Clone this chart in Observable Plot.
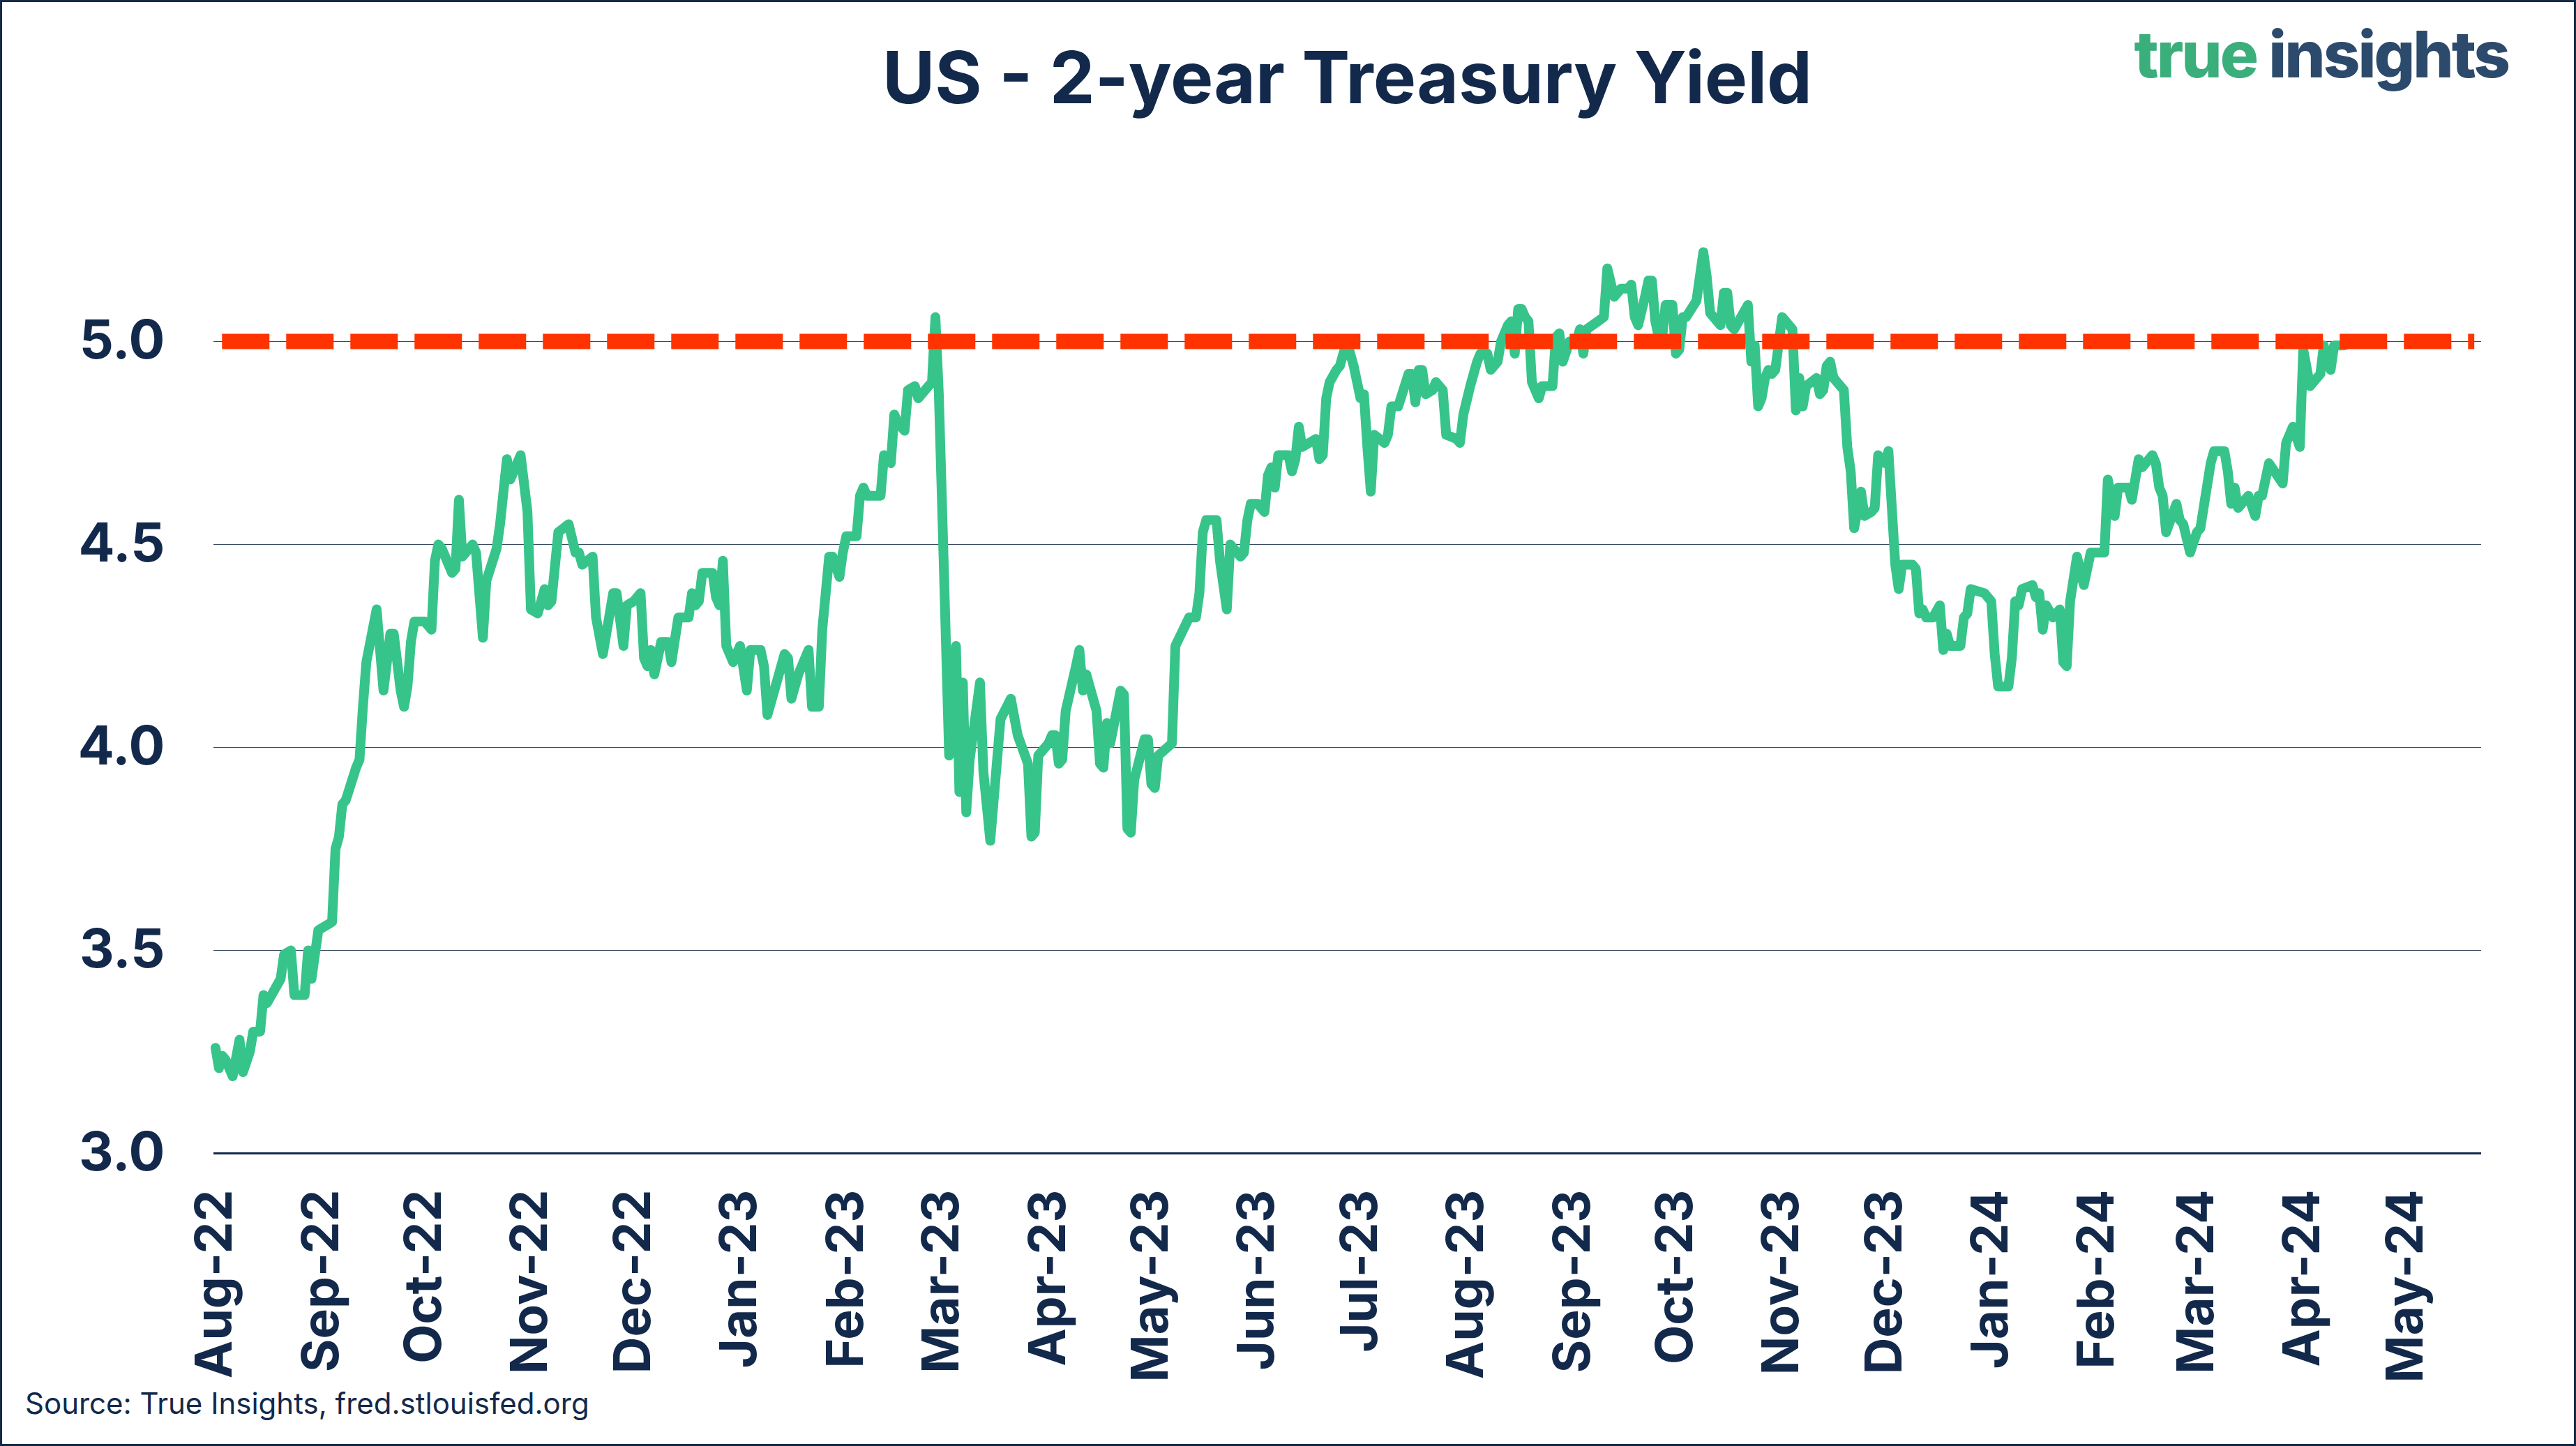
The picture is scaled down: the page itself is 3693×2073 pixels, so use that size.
<!DOCTYPE html>
<html>
<head>
<meta charset="utf-8">
<script src="https://cdn.jsdelivr.net/npm/d3@7"></script>
<script src="https://cdn.jsdelivr.net/npm/@observablehq/plot@0.6"></script>
<style>
  html, body { margin: 0; padding: 0; background: #ffffff; }
  #frame { position: relative; width: 3693px; height: 2073px; overflow: hidden; background: #ffffff; font-family: Inter, "Noto Sans", sans-serif; }
  #border { position: absolute; left: 0; top: 0; width: 3693px; height: 2073px; box-sizing: border-box; border: 3px solid #152a47; pointer-events: none; }
  #title { position: absolute; left: 306px; width: 3251px; top: 59px; text-align: center; font-size: 103px; line-height: 1; font-weight: 700; color: #13294b; white-space: nowrap; }
  #logo { position: absolute; right: 97px; top: 32px; font-size: 92px; line-height: 1; font-weight: 800; letter-spacing: -3px; white-space: nowrap; }
  #logo .a { color: #3aae7b; }
  #logo .b { color: #2c4a6c; }
  #chart { position: absolute; left: 0; top: 200px; }
  #caption { position: absolute; left: 36px; top: 1991px; font-size: 42px; line-height: 1; color: #13294b; white-space: nowrap; }
</style>
</head>
<body>
<div id="frame">
  <div id="title">US - 2-year Treasury Yield</div>
  <div id="logo"><span class="a">true</span> <span class="b">insights</span></div>
  <div id="chart"></div>
  <div id="caption">Source: True Insights, fred.stlouisfed.org</div>
  <div id="border"></div>
</div>
<script>
// ---- data (US 2-year Treasury yield, %) ----
const dates22 = [
  "2022-08-01","2022-08-02","2022-08-03","2022-08-04","2022-08-06","2022-08-08","2022-08-09","2022-08-11","2022-08-12","2022-08-14","2022-08-15","2022-08-16","2022-08-18","2022-08-20","2022-08-21","2022-08-23","2022-08-24","2022-08-27","2022-08-28","2022-08-29","2022-08-31",
  "2022-09-04","2022-09-05","2022-09-06","2022-09-07","2022-09-08","2022-09-11","2022-09-12","2022-09-13","2022-09-14","2022-09-17","2022-09-19","2022-09-21","2022-09-22","2022-09-24","2022-09-25","2022-09-26","2022-09-27","2022-09-28",
  "2022-10-01","2022-10-03","2022-10-04","2022-10-05","2022-10-06","2022-10-09","2022-10-10","2022-10-11","2022-10-12","2022-10-15","2022-10-16","2022-10-18","2022-10-19","2022-10-22","2022-10-23","2022-10-25","2022-10-26","2022-10-27","2022-10-29","2022-10-31",
  "2022-11-01","2022-11-03","2022-11-05","2022-11-06","2022-11-07","2022-11-09","2022-11-12","2022-11-14","2022-11-15","2022-11-16","2022-11-19","2022-11-20","2022-11-22","2022-11-25","2022-11-26","2022-11-28","2022-11-29",
  "2022-12-01","2022-12-03","2022-12-04","2022-12-05","2022-12-06","2022-12-07","2022-12-09","2022-12-11","2022-12-12","2022-12-14","2022-12-17","2022-12-18","2022-12-19","2022-12-20","2022-12-21","2022-12-24","2022-12-25","2022-12-26","2022-12-27","2022-12-28","2022-12-30"
];
const yields22 = [
  3.26,3.21,3.24,3.23,3.19,3.28,3.20,3.25,3.30,3.30,3.39,3.37,3.40,3.43,3.49,3.50,3.39,3.39,3.50,3.43,3.55,
  3.57,3.75,3.78,3.86,3.87,3.95,3.97,4.10,4.21,4.34,4.14,4.28,4.28,4.14,4.10,4.15,4.26,4.31,
  4.31,4.29,4.46,4.50,4.49,4.43,4.44,4.61,4.47,4.50,4.48,4.27,4.41,4.49,4.55,4.71,4.66,4.68,4.72,4.58,
  4.34,4.33,4.39,4.35,4.36,4.53,4.55,4.48,4.48,4.45,4.47,4.32,4.23,4.38,4.38,4.25,4.35,
  4.36,4.38,4.22,4.20,4.24,4.18,4.26,4.26,4.21,4.32,4.32,4.38,4.35,4.36,4.43,4.43,4.37,4.35,4.46,4.25,4.21
];
const dates23 = [
  "2023-01-01","2023-01-03","2023-01-04","2023-01-07","2023-01-08","2023-01-09","2023-01-12","2023-01-14","2023-01-15","2023-01-16","2023-01-18","2023-01-21","2023-01-22","2023-01-24","2023-01-25","2023-01-27","2023-01-28","2023-01-30","2023-01-31",
  "2023-02-01","2023-02-04","2023-02-05","2023-02-06","2023-02-07","2023-02-11","2023-02-12","2023-02-14","2023-02-15","2023-02-16","2023-02-18","2023-02-19","2023-02-21","2023-02-22","2023-02-24","2023-02-26","2023-02-27","2023-02-28",
  "2023-03-01","2023-03-03","2023-03-05","2023-03-06","2023-03-07","2023-03-08","2023-03-09","2023-03-12","2023-03-13","2023-03-15","2023-03-18","2023-03-21","2023-03-23","2023-03-26","2023-03-27","2023-03-28","2023-03-29",
  "2023-04-01","2023-04-02","2023-04-03","2023-04-04","2023-04-05","2023-04-06","2023-04-09","2023-04-10","2023-04-11","2023-04-12","2023-04-15","2023-04-16","2023-04-17","2023-04-18","2023-04-19","2023-04-22","2023-04-23","2023-04-24","2023-04-25","2023-04-26","2023-04-29","2023-04-30",
  "2023-05-01","2023-05-02","2023-05-03","2023-05-07","2023-05-08","2023-05-12","2023-05-14","2023-05-15","2023-05-16","2023-05-17","2023-05-20","2023-05-21","2023-05-23","2023-05-24","2023-05-25","2023-05-27","2023-05-28","2023-05-29","2023-05-30",
  "2023-06-01","2023-06-03","2023-06-04","2023-06-05","2023-06-06","2023-06-07","2023-06-10","2023-06-11","2023-06-12","2023-06-13","2023-06-14","2023-06-16","2023-06-18","2023-06-19","2023-06-20","2023-06-21","2023-06-22","2023-06-24","2023-06-25","2023-06-27","2023-06-29",
  "2023-07-01","2023-07-02","2023-07-03","2023-07-04","2023-07-05","2023-07-08","2023-07-09","2023-07-10","2023-07-12","2023-07-15","2023-07-16","2023-07-17","2023-07-18","2023-07-19","2023-07-20","2023-07-22","2023-07-23","2023-07-24","2023-07-25","2023-07-26","2023-07-29","2023-07-30","2023-07-31",
  "2023-08-02","2023-08-04","2023-08-05","2023-08-07","2023-08-08","2023-08-10","2023-08-11","2023-08-13","2023-08-14","2023-08-15","2023-08-16","2023-08-17","2023-08-18","2023-08-19","2023-08-20","2023-08-22","2023-08-23","2023-08-26","2023-08-27","2023-08-28","2023-08-29","2023-08-31",
  "2023-09-02","2023-09-03","2023-09-04","2023-09-05","2023-09-10","2023-09-11","2023-09-13","2023-09-15","2023-09-17","2023-09-18","2023-09-19","2023-09-20","2023-09-22","2023-09-23","2023-09-24","2023-09-25","2023-09-26","2023-09-27","2023-09-28","2023-09-30",
  "2023-10-01","2023-10-02","2023-10-03","2023-10-04","2023-10-07","2023-10-09","2023-10-10","2023-10-11","2023-10-14","2023-10-15","2023-10-16","2023-10-17","2023-10-18","2023-10-20","2023-10-22","2023-10-23","2023-10-24","2023-10-25","2023-10-26","2023-10-27","2023-10-28","2023-10-29","2023-10-30",
  "2023-11-01","2023-11-04","2023-11-05","2023-11-06","2023-11-07","2023-11-08","2023-11-11","2023-11-12","2023-11-13","2023-11-14","2023-11-15","2023-11-16","2023-11-19","2023-11-20","2023-11-21","2023-11-22","2023-11-24","2023-11-25","2023-11-27","2023-11-28","2023-11-29",
  "2023-12-01","2023-12-02","2023-12-04","2023-12-05","2023-12-06","2023-12-09","2023-12-10","2023-12-11","2023-12-12","2023-12-13","2023-12-15","2023-12-17","2023-12-18","2023-12-19","2023-12-20","2023-12-23","2023-12-24","2023-12-25","2023-12-26","2023-12-30","2023-12-31"
];
const yields23 = [
  4.25,4.14,4.24,4.24,4.20,4.08,4.17,4.23,4.22,4.12,4.18,4.24,4.10,4.10,4.29,4.47,4.47,4.42,4.48,
  4.52,4.52,4.62,4.64,4.62,4.62,4.72,4.70,4.82,4.80,4.78,4.88,4.89,4.86,4.88,4.90,5.06,4.87,
  4.58,3.98,4.25,3.89,4.16,3.84,3.97,4.16,3.94,3.77,4.07,4.12,4.03,3.96,3.78,3.79,3.98,
  4.01,4.03,4.03,3.96,3.97,4.09,4.20,4.24,4.14,4.18,4.09,3.96,3.95,4.06,4.01,4.14,4.13,3.80,3.79,3.92,4.02,4.02,
  3.91,3.90,3.98,4.01,4.25,4.32,4.32,4.38,4.53,4.56,4.56,4.46,4.34,4.50,4.49,4.47,4.48,4.56,4.60,
  4.60,4.58,4.67,4.69,4.64,4.72,4.72,4.68,4.71,4.79,4.74,4.75,4.76,4.71,4.72,4.86,4.90,4.93,4.94,5.00,4.94,
  4.86,4.87,4.74,4.63,4.77,4.75,4.77,4.84,4.84,4.92,4.92,4.85,4.93,4.93,4.87,4.88,4.90,4.89,4.88,4.77,4.76,4.75,4.82,
  4.89,4.95,4.97,4.97,4.93,4.95,5.00,5.04,5.05,4.97,5.08,5.08,5.06,5.05,4.90,4.86,4.89,4.89,5.01,5.02,4.95,5.00,
  5.00,5.03,4.97,5.03,5.06,5.18,5.11,5.13,5.13,5.14,5.06,5.04,5.11,5.15,5.15,5.05,5.01,5.01,5.09,5.09,
  4.97,4.98,5.06,5.06,5.10,5.22,5.16,5.07,5.04,5.12,5.12,5.04,5.03,5.06,5.09,4.95,4.99,4.84,4.86,4.91,4.93,4.92,4.93,
  5.06,5.03,4.83,4.91,4.84,4.89,4.91,4.87,4.88,4.94,4.95,4.91,4.88,4.74,4.68,4.54,4.63,4.57,4.58,4.59,4.72,
  4.70,4.73,4.45,4.39,4.45,4.45,4.44,4.33,4.34,4.32,4.32,4.35,4.24,4.28,4.25,4.25,4.32,4.33,4.39,4.38,4.37
];
const dates24 = [
  "2024-01-01","2024-01-02","2024-01-03","2024-01-06","2024-01-07","2024-01-08","2024-01-09","2024-01-10","2024-01-13","2024-01-14","2024-01-15","2024-01-16","2024-01-17","2024-01-19","2024-01-21","2024-01-22","2024-01-23","2024-01-24","2024-01-26","2024-01-28","2024-01-30",
  "2024-02-03","2024-02-04","2024-02-06","2024-02-07","2024-02-10","2024-02-11","2024-02-13","2024-02-14","2024-02-17","2024-02-18","2024-02-19","2024-02-20","2024-02-21","2024-02-24","2024-02-25","2024-02-26","2024-02-28",
  "2024-03-01","2024-03-02","2024-03-05","2024-03-06","2024-03-09","2024-03-10","2024-03-11","2024-03-12","2024-03-13","2024-03-16","2024-03-18","2024-03-19","2024-03-20","2024-03-22","2024-03-26","2024-03-27","2024-03-29","2024-03-31",
  "2024-04-01","2024-04-03","2024-04-06","2024-04-07","2024-04-09","2024-04-10","2024-04-13"
];
const yields24 = [
  4.36,4.23,4.15,4.15,4.22,4.36,4.35,4.39,4.40,4.37,4.38,4.29,4.35,4.32,4.34,4.21,4.20,4.36,4.47,4.40,4.48,
  4.48,4.66,4.57,4.64,4.64,4.61,4.71,4.69,4.72,4.70,4.64,4.62,4.53,4.60,4.56,4.55,4.48,
  4.53,4.54,4.70,4.73,4.73,4.68,4.60,4.64,4.59,4.62,4.57,4.62,4.62,4.70,4.65,4.75,4.79,4.74,
  4.98,4.89,4.92,4.99,4.93,4.99,4.99
];

// 5% reference level (red dashed line)
const targetLevel = 5.0;
const targetStart = "2022-08-03";
const targetEnd = "2024-05-21";

// axis ticks
const yTicks = [3.0, 3.5, 4.0, 4.5, 5.0];
const gridLevels = [3.5, 4.0, 4.5, 5.0];
const monthTicks = [
  "2022-08-01","2022-09-01","2022-10-01","2022-11-01","2022-12-01",
  "2023-01-01","2023-02-01","2023-03-01","2023-04-01","2023-05-01","2023-06-01",
  "2023-07-01","2023-08-01","2023-09-01","2023-10-01","2023-11-01","2023-12-01",
  "2024-01-01","2024-02-01","2024-03-01","2024-04-01","2024-05-01"
];

// ---- build ----
const parse = d3.utcParse("%Y-%m-%d");
const series = [];
[[dates22, yields22], [dates23, yields23], [dates24, yields24]].forEach(([ds, ys]) => {
  ds.forEach((d, i) => series.push({date: parse(d), value: ys[i]}));
});
const target = [{start: parse(targetStart), end: parse(targetEnd), level: targetLevel}];

const navy = "#13294b";
const chart = Plot.plot({
  width: 3693,
  height: 1790,
  marginLeft: 306,
  marginRight: 136,
  marginTop: 114.4,
  marginBottom: 337,
  style: {fontFamily: "Inter, 'Noto Sans', sans-serif", color: navy, background: "transparent", overflow: "visible"},
  x: {type: "utc", domain: [new Date(Date.UTC(2022, 6, 31, 12)), new Date(Date.UTC(2024, 4, 23))]},
  y: {domain: [3.0, 5.3]},
  marks: [
    Plot.ruleY(gridLevels, {stroke: "#34475c", strokeWidth: 1.2}),
    Plot.ruleY([3.0], {stroke: navy, strokeWidth: 3.2}),
    Plot.line(series, {x: "date", y: "value", stroke: "#37c48b", strokeWidth: 14, strokeLinejoin: "round", strokeLinecap: "round"}),
    Plot.ruleY(target, {y: "level", x1: "start", x2: "end", stroke: "#ff3300", strokeWidth: 22, strokeDasharray: "68 24"}),
    Plot.axisY({ticks: yTicks, tickFormat: d => d.toFixed(1), tickSize: 0, tickPadding: 70, fontSize: 77, fontWeight: 700, fontVariant: "normal", label: null}),
    Plot.axisX({ticks: monthTicks.map(parse), tickFormat: d3.utcFormat("%b-%y"), tickRotate: -90, tickSize: 0, tickPadding: 52, fontSize: 73, fontWeight: 700, fontVariant: "normal", label: null})
  ]
});
document.getElementById("chart").appendChild(chart);
</script>
</body>
</html>
